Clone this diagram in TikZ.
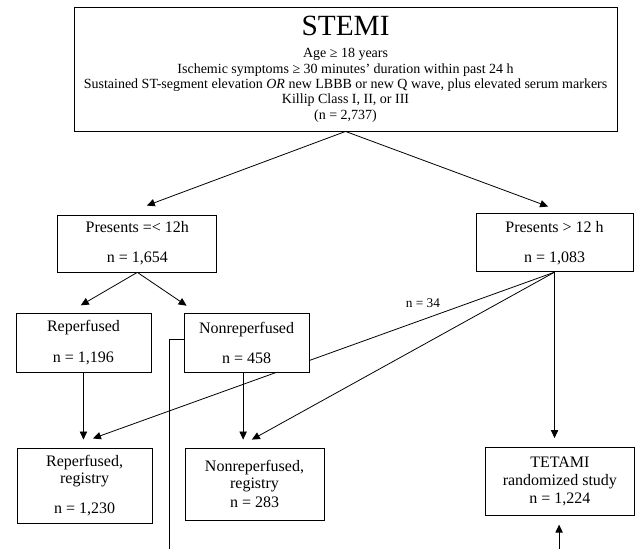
\documentclass[tikz,border=0pt]{standalone}
\usepackage{fontspec}
\setmainfont{Liberation Serif}
\usetikzlibrary{arrows.meta,calc,positioning}
\pgfdeclarelayer{bg}
\pgfsetlayers{bg,main}

\begin{document}
\begin{tikzpicture}[>={Triangle[length=6pt,width=5.5pt]}, scale=1.0,
  box/.style={draw, fill=white, line width=0.6pt, align=center, inner sep=2pt,
    font=\fontsize{12}{13}\selectfont},
  arr/.style={->, line width=0.6pt},
  link/.style={line width=0.6pt}]
  \useasboundingbox (0,0) rectangle (16.82,14.47);
  % screening criteria
  \node[box, minimum width=14.31cm, minimum height=3.27cm,
    font=\fontsize{10.5}{11.5}\selectfont] (stemi) at (9.11,12.65)
    {{\fontsize{22}{22}\selectfont STEMI}\\[5.5pt]
     Age ≥ 18 years\\
     Ischemic symptoms ≥ 30 minutes’ duration within past 24 h\\
     Sustained ST-segment elevation \textit{OR} new LBBB or new Q wave, plus elevated serum markers\\
     Killip Class I, II, or III\\
     (n = 2,737)};
  % time from symptom onset
  \node[box, minimum width=4.19cm, minimum height=1.50cm] (early) at (3.62,8.05)
    {Presents =< 12h\\[9.5pt] n = 1,654};
  \node[box, minimum width=4.14cm, minimum height=1.53cm] (late) at (14.62,8.07)
    {Presents > 12 h\\[9.5pt] n = 1,083};
  % early presenters
  \node[box, minimum width=3.56cm, minimum height=1.58cm] (reperf) at (2.20,5.43)
    {Reperfused\\[10pt] n = 1,196};
  \node[box, minimum width=3.30cm, minimum height=1.58cm] (nonreperf) at (6.50,5.43)
    {Nonreperfused\\[10pt] n = 458};
  % final groups
  \node[box, minimum width=3.56cm, minimum height=1.98cm] (reperfreg) at (2.23,1.67)
    {Reperfused,\\ registry\\[9.5pt] n = 1,230};
  \node[box, minimum width=3.66cm, minimum height=1.90cm] (nonreg) at (6.71,1.71)
    {Nonreperfused,\\ registry\\[1pt] n = 283};
  \node[box, minimum width=3.95cm, minimum height=1.77cm] (tetami) at (14.76,1.78)
    {TETAMI\\ randomized study\\[0.5pt] n = 1,224};
  \node[font=\fontsize{10}{12}\selectfont] (n34) at (11.15,6.49) {n = 34};
  \coordinate (drop) at (4.47,0);
  \coordinate (tetin) at (14.74,0);
  \begin{pgfonlayer}{bg}
    \draw[arr] (stemi.south) -- ($(early.north)+(0.25,0.24)$);
    \draw[arr] (stemi.south) -- ($(late.north)+(-0.17,0.18)$);
    \draw[arr] (early.south) -- ($(reperf.north)+(-0.07,0.19)$);
    \draw[arr] (early.south) -- ($(nonreperf.north west)+(0.08,0.18)$);
    \draw[arr, shorten >=6pt] (reperf.south) -- (reperf.south |- reperfreg.north);
    \draw[arr] ($(nonreperf.south)+(-0.09,0)$) -- ($(nonreperf.south |- nonreg.north)+(-0.09,0.21)$);
    \draw[link] ($(nonreperf.west)+(0,0.08)$) -| (drop);
    % late presenters fan out
    \draw[arr] (late.south) -- ($(reperfreg.north)+(0.22,0.24)$);
    \draw[arr] (late.south) -- ($(nonreg.north)+(-0.07,0.21)$);
    \draw[arr, shorten >=7pt] (late.south) -- (late.south |- tetami.north);
    \draw[arr, shorten >=7pt] (tetin) -- (tetin |- tetami.south);
  \end{pgfonlayer}
\end{tikzpicture}
\end{document}
